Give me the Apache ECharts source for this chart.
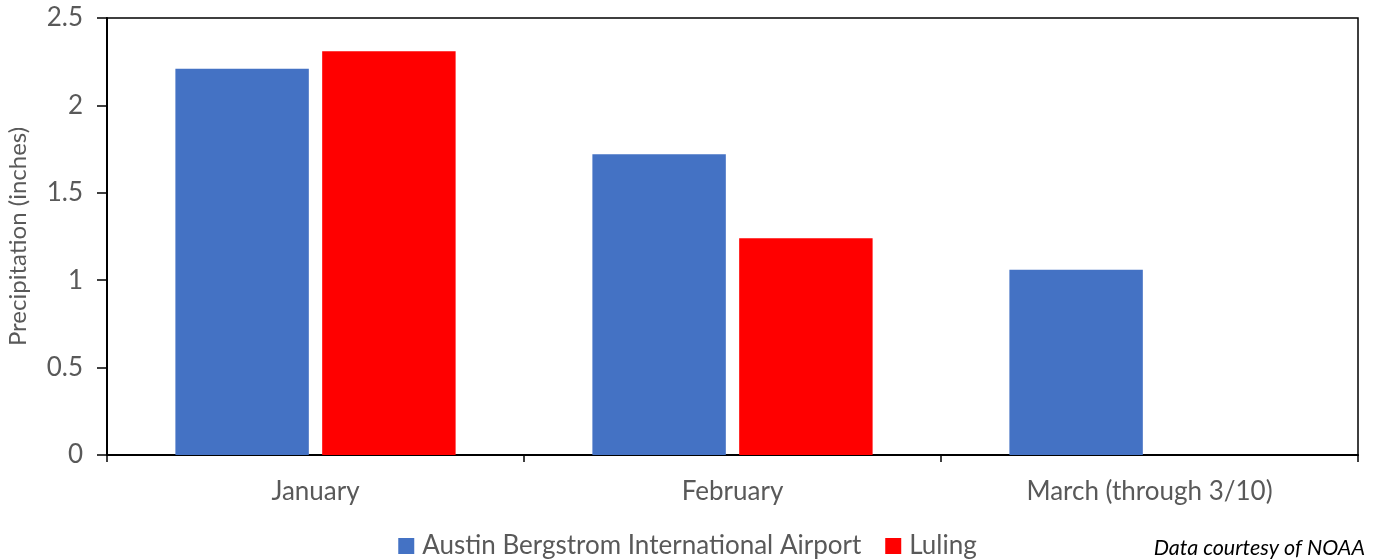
<!DOCTYPE html>
<html>
<head>
<meta charset="utf-8">
<script src="https://cdn.jsdelivr.net/npm/echarts@6/dist/echarts.min.js"></script>
<style>
html,body{margin:0;padding:0;background:#fff;}
#c{width:1375px;height:559px;}
</style>
</head>
<body>
<div id="c"></div>
<script>
var categories = ['January', 'February', 'March (through 3/10)'];
var austin = [2.21, 1.72, 1.06];
var luling = [2.31, 1.24, null];
var seriesNames = ['Austin Bergstrom International Airport', 'Luling'];
var yTicks = [0, 0.5, 1, 1.5, 2, 2.5];

var FONT = 'Lato';
var TXT = '#595959';
var chart = echarts.init(document.getElementById('c'), null, {renderer: 'canvas'});
chart.setOption({
  animation: false,
  textStyle: {fontFamily: FONT},
  grid: {left: 107, right: 17, top: 18, bottom: 104, show: true, borderColor: '#000', borderWidth: 1.5, containLabel: false, outerBoundsMode: 'none'},
  legend: {
    data: seriesNames,
    bottom: 0,
    left: 'center',
    padding: [0, 0, 0, 0],
    itemWidth: 16,
    itemHeight: 16,
    itemGap: 24,
    icon: 'rect',
    textStyle: {fontFamily: FONT, fontSize: 26, color: TXT, padding: [0, 0, 0, 3]}
  },
  title: {
    text: 'Data courtesy of NOAA',
    right: 10,
    bottom: 0,
    padding: [0, 0, 0, 0],
    textStyle: {fontFamily: FONT, fontSize: 21.5, fontStyle: 'italic', fontWeight: 'normal', color: '#000'}
  },
  xAxis: {
    type: 'category',
    data: categories,
    boundaryGap: true,
    axisLine: {show: true, lineStyle: {color: '#000', width: 2}},
    axisTick: {show: true, alignWithLabel: false, inside: false, length: 7, lineStyle: {color: '#000', width: 1.5}},
    axisLabel: {fontFamily: FONT, fontSize: 26, color: TXT, margin: 24},
    splitLine: {show: false}
  },
  yAxis: {
    type: 'value',
    min: 0,
    max: 2.5,
    interval: 0.5,
    name: 'Precipitation (inches)',
    nameLocation: 'middle',
    nameGap: 77,
    nameTextStyle: {fontFamily: FONT, fontSize: 24, color: TXT},
    axisLine: {show: true, lineStyle: {color: '#000', width: 2}},
    axisTick: {show: true, inside: false, length: 10, lineStyle: {color: '#000', width: 1.5}},
    axisLabel: {fontFamily: FONT, fontSize: 26, color: TXT, margin: 24,
      formatter: function (v) { return yTicks.indexOf(v) >= 0 ? String(v) : ''; }},
    splitLine: {show: false}
  },
  series: [
    {name: seriesNames[0], type: 'bar', data: austin, barWidth: '32%', barGap: '10%', itemStyle: {color: '#4472C4'}},
    {name: seriesNames[1], type: 'bar', data: luling, barWidth: '32%', barGap: '10%', itemStyle: {color: '#FF0000'}}
  ]
});
</script>
</body>
</html>
